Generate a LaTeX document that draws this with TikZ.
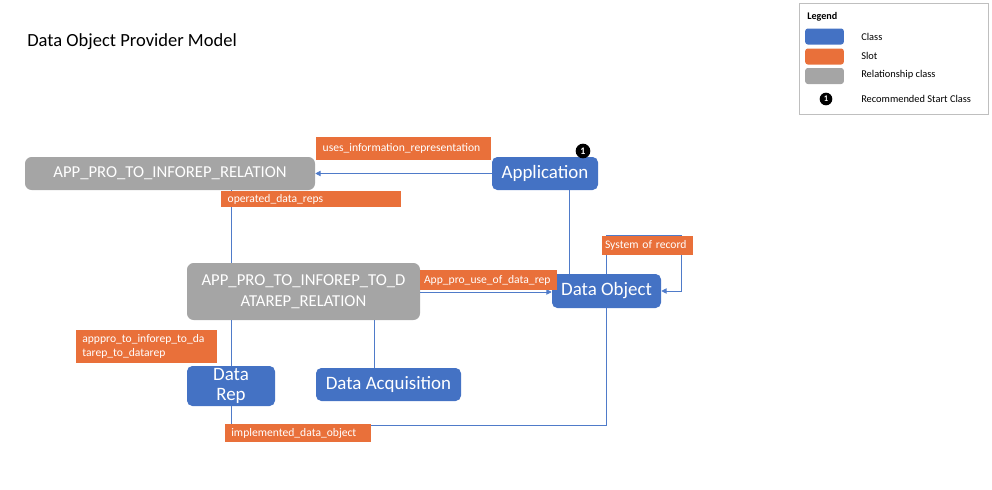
\documentclass[tikz,border=0pt]{standalone}
\usepackage{fontspec}
\setmainfont{Carlito}
\usetikzlibrary{arrows.meta,calc}
\definecolor{clsblue}{HTML}{4472C4}
\definecolor{slotor}{HTML}{E9703A}
\definecolor{relgray}{HTML}{A5A5A5}
\definecolor{lnblue}{HTML}{4F7BC9}
\tikzset{
  cls/.style={fill=clsblue, draw=none, rounded corners=4pt, text=white, font=\fontsize{14.2}{16}\selectfont, align=center, inner sep=0pt},
  rel/.style={fill=relgray, draw=none, rounded corners=5pt, text=white, font=\fontsize{12.5}{15.5}\selectfont, align=center, inner sep=0pt},
  slot/.style={fill=slotor, draw=none, text=white, font=\fontsize{8.7}{10.5}\selectfont, align=left, inner xsep=5pt, inner ysep=0pt},
  conn/.style={draw=lnblue, line width=0.6pt},
  arr/.style={conn, -{Triangle[length=4pt,width=4pt]}},
  legtxt/.style={font=\fontsize{7.8}{9}\selectfont, anchor=west, inner sep=0pt},
  swatch/.style={draw=none, rounded corners=2pt, minimum width=29pt, minimum height=12pt, inner sep=0pt}
}
\begin{document}
\begin{tikzpicture}[x=0.75pt, y=-0.75pt]
\useasboundingbox (0,0) rectangle (992,489);
% title
\node[anchor=west, inner sep=0pt, font=\fontsize{13.9}{16}\selectfont] (title) at (27,42) {Data Object Provider Model};
% legend
\node[draw=black!25, line width=0.5pt, minimum width=141.75pt, minimum height=83.25pt, inner sep=0pt] (legend) at (893.5,58.5) {};
\node[anchor=west, inner sep=0pt, font=\bfseries\fontsize{7.6}{9}\selectfont] (legtitle) at (807,17) {Legend};
\node[swatch, fill=clsblue] (sw1) at (824.5,36.5) {};
\node[swatch, fill=slotor] (sw2) at (824.5,56.5) {};
\node[swatch, fill=relgray] (sw3) at (824.5,76) {};
\node[circle, fill=black, text=white, inner sep=0pt, minimum size=9.5pt, font=\bfseries\fontsize{6.5}{7}\selectfont] (sw4) at (826,99) {1};
\node[legtxt] (l1) at (861,37) {Class};
\node[legtxt] (l2) at (861,56) {Slot};
\node[legtxt] (l3) at (861,75) {Relationship class};
\node[legtxt] (l4) at (861,99) {Recommended Start Class};
% main nodes
\node[rel, minimum width=217.5pt, minimum height=24.75pt] (rel1) at (170,173.5) {APP\_PRO\_TO\_INFOREP\_RELATION};
\node[cls, minimum width=79.5pt, minimum height=24.75pt] (app) at (545,173.5) {Application};
\node[rel, minimum width=174.75pt, minimum height=42.75pt] (rel2) at (303.5,291.5) {APP\_PRO\_TO\_INFOREP\_TO\_D\\ATAREP\_RELATION};
\node[cls, minimum width=81.75pt, minimum height=25.5pt] (dobj) at (606.5,291) {Data Object};
\node[cls, minimum width=66pt, minimum height=30pt, font=\fontsize{14.2}{15}\selectfont] (drep) at (231,386) {Data\\Rep};
\node[cls, minimum width=108.75pt, minimum height=24.75pt] (dacq) at (388.5,384.5) {Data Acquisition};
% helper coordinates
\coordinate (appdown) at (569,190);
\coordinate (dobjup) at (569,274);
\coordinate (acqtop) at (374,368);
\coordinate (relbot) at (374,320);
\coordinate (implc) at (298,433);
\coordinate (implr) at (370,425);
% connectors
\draw[arr] (app.west) -- (rel1.east);
\draw[conn] (rel1.south -| drep.north) -- (rel2.north -| drep.north);
\draw[conn] (appdown) -- (dobjup);
\draw[arr] ($(rel2.east)+(0,0.5)$) -- ($(dobj.west)+(0,1)$);
\draw[arr] (dobj.north) -- ++(0,-38) -| ($(dobj.east)+(20,0)$) -- (dobj.east);
\draw[conn] (rel2.south -| drep.north) -- (drep.north);
\draw[conn] (relbot) -- (acqtop);
\draw[conn] (drep.south) -- (drep.south |- implc);
\draw[conn] (implr) -| (dobj.south);
% slot labels
\node[slot, text width=121.25pt, minimum height=17.25pt] (uses) at (403.5,148.5) {uses\_information\_representation};
\node[slot, text width=125pt, minimum height=12pt] (opd) at (311,199) {operated\_data\_reps};
\node[slot, text width=96.75pt, minimum height=15pt, inner xsep=3pt] (apu) at (488.5,280) {App\_pro\_use\_of\_data\_rep};
\node[slot, text width=63.75pt, minimum height=14.25pt, inner xsep=2.5pt] (sor) at (647.5,245.5) {System of record};
\node[slot, text width=96.25pt, minimum height=24.75pt] (apppro) at (146.5,346.5) {apppro\_to\_inforep\_to\_da\\tarep\_to\_datarep};
\node[slot, text width=100pt, minimum height=13.5pt] (impl) at (implc) {implemented\_data\_object};
% badge
\node[circle, fill=black, text=white, inner sep=0pt, minimum size=11pt, font=\bfseries\fontsize{7.5}{8}\selectfont] (badge) at (583,151) {1};
\end{tikzpicture}
\end{document}
